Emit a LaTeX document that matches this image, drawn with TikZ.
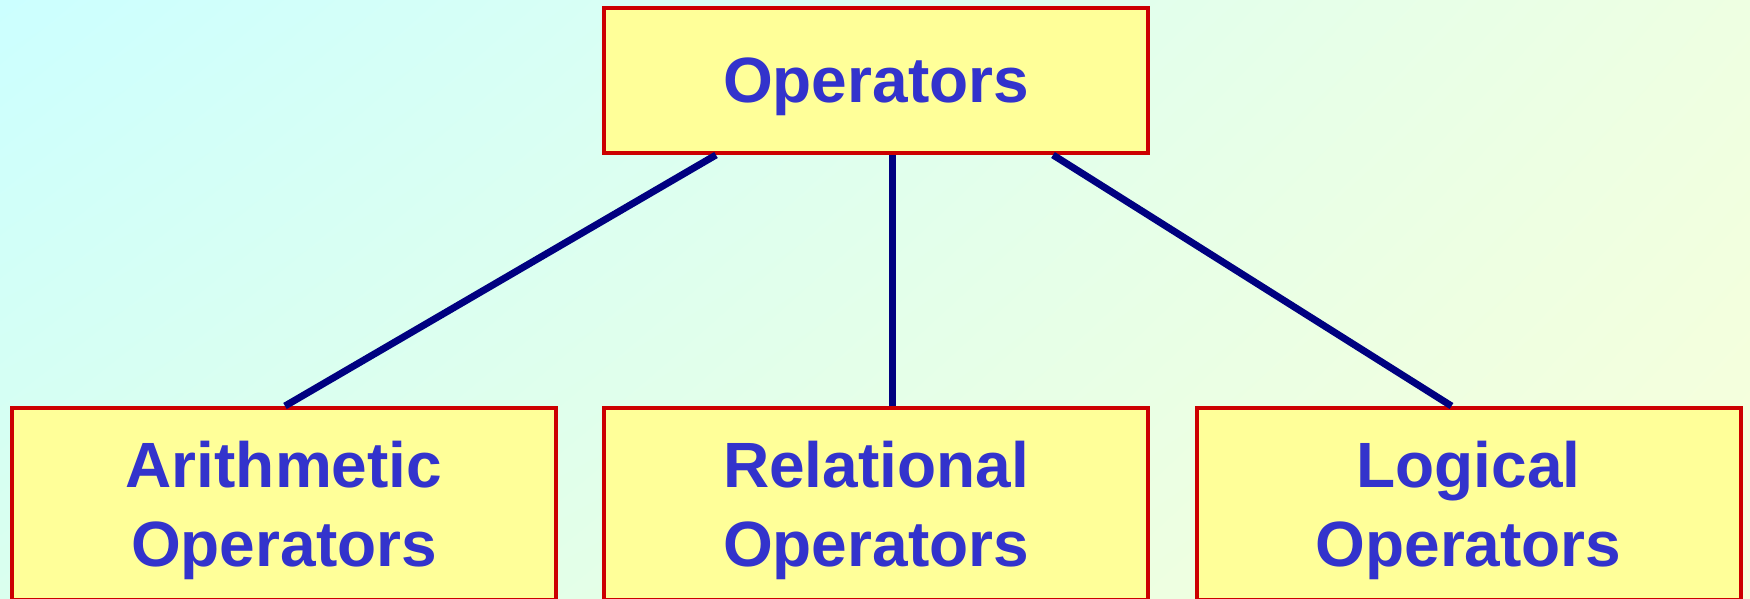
\documentclass[tikz,border=0pt]{standalone}
\usepackage{fontspec}
\setmainfont{Liberation Sans}
\usetikzlibrary{shadings}
\definecolor{boxfill}{HTML}{FFFF99}
\definecolor{boxline}{HTML}{CC0000}
\definecolor{txt}{HTML}{3333CC}
\definecolor{conn}{HTML}{000080}
\definecolor{bgUL}{HTML}{CCFFFF}
\definecolor{bgUR}{HTML}{EEFFE2}
\definecolor{bgLL}{HTML}{DAFFEE}
\definecolor{bgLR}{HTML}{F8FFDA}
\begin{document}
\begin{tikzpicture}[x=0.5pt,y=-0.5pt,
  opbox/.style={draw=boxline, fill=boxfill, line width=2pt, minimum width=272pt,
    inner sep=0pt},
  optext/.style={text=txt, align=center, inner sep=0pt, yshift=-3pt,
    font=\fontsize{32}{39.5}\selectfont\bfseries},
  topbox/.style={opbox, minimum height=72.5pt},
  lowbox/.style={opbox, minimum height=96pt},
  link/.style={draw=conn, line width=3.5pt}]
\useasboundingbox (0,0) rectangle (1750,599);
\shade[upper left=bgUL, upper right=bgUR, lower left=bgLL, lower right=bgLR] (0,0) rectangle (1750,599);
\begin{scope}
\clip (0,0) rectangle (1750,599);
\node[topbox, label={[optext]center:Operators}] (top) at (876,80.5) {};
\node[lowbox, label={[optext]center:Arithmetic\\Operators}] (arith) at (284,504) {};
\node[lowbox, label={[optext]center:Relational\\Operators}] (rel) at (876,504) {};
\node[lowbox, label={[optext]center:Logical\\Operators}] (logic) at (1468.5,504) {};
\draw[link] ([xshift=-80pt]top.south) -- ([xshift=0.5pt]arith.north);
\draw[link] ([xshift=8.25pt]top.south) -- ([xshift=8.25pt]rel.north);
\draw[link] ([xshift=88.5pt]top.south) -- ([xshift=-8.5pt]logic.north);
\end{scope}
\end{tikzpicture}
\end{document}
